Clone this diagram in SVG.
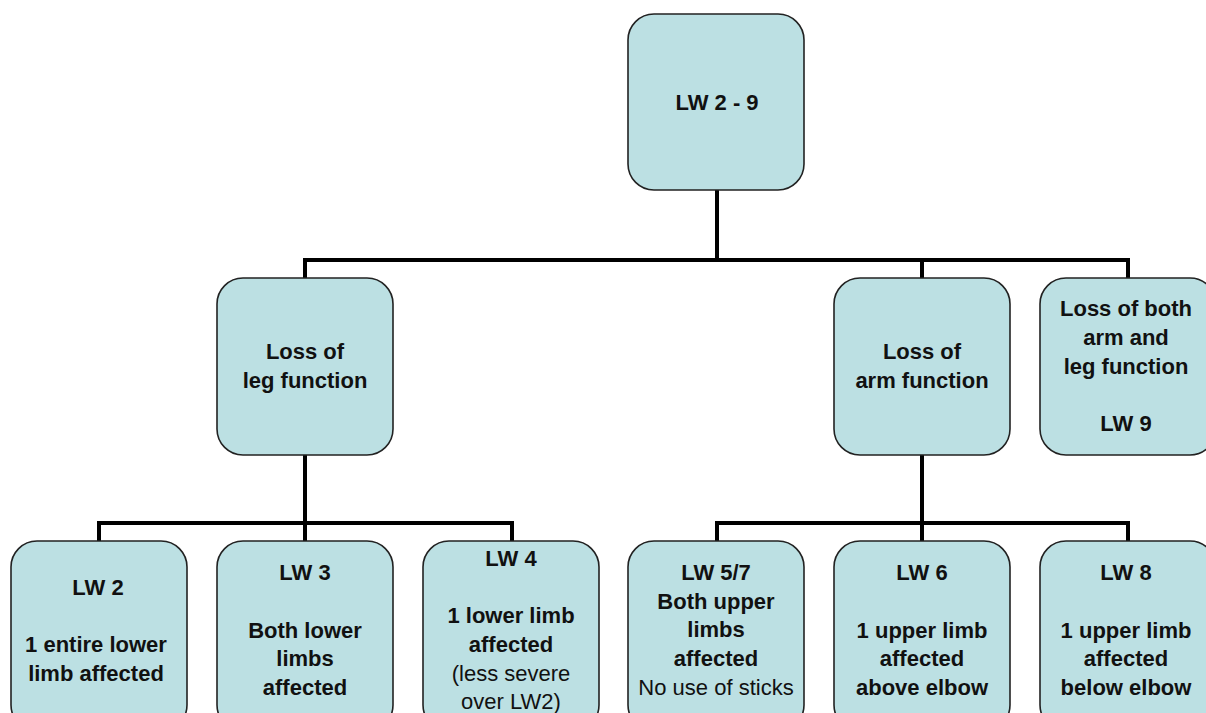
<svg xmlns="http://www.w3.org/2000/svg" width="1206" height="713" viewBox="0 0 1206 713">
<style>
.box{fill:#BCE0E3;stroke:#222;stroke-width:1.6}
.c{fill:none;stroke:#000;stroke-width:4;stroke-linecap:square}
text{font-family:"Liberation Sans",Arial,sans-serif;font-size:22px;font-weight:bold;fill:#111;text-anchor:middle}
.n{font-weight:normal}
</style>
<rect width="1206" height="713" fill="#fff"/>
<g id="connectors">
<path class="c" d="M717 190V260M305 260H1128M305 260V278M922 260V278M1128 260V278"/>
<path class="c" d="M305 455V523M99 523H512M99 523V541M305 523V541M512 523V541"/>
<path class="c" d="M922 455V523M717 523H1128M717 523V541M922 523V541M1128 523V541"/>
</g>
<g id="n-top"><rect class="box" x="628" y="14" width="176" height="176" rx="26"/><text x="717" y="110">LW 2 - 9</text></g>
<g id="n-leg"><rect class="box" x="217" y="278" width="176" height="177" rx="26"/><text x="305" y="359">Loss of</text><text x="305" y="388">leg function</text></g>
<g id="n-arm"><rect class="box" x="834" y="278" width="176" height="177" rx="26"/><text x="922" y="359">Loss of</text><text x="922" y="388">arm function</text></g>
<g id="n-both"><rect class="box" x="1040" y="278" width="176" height="177" rx="26"/><text x="1126" y="316">Loss of both</text><text x="1126" y="345">arm and</text><text x="1126" y="374">leg function</text><text x="1126" y="431">LW 9</text></g>
<g id="n-lw2"><rect class="box" x="11" y="541" width="176" height="190" rx="26"/><text x="98" y="595">LW 2</text><text x="96" y="652">1 entire lower</text><text x="96" y="681">limb affected</text></g>
<g id="n-lw3"><rect class="box" x="217" y="541" width="176" height="190" rx="26"/><text x="305" y="580">LW 3</text><text x="305" y="638">Both lower</text><text x="305" y="666">limbs</text><text x="305" y="695">affected</text></g>
<g id="n-lw4"><rect class="box" x="423" y="541" width="176" height="190" rx="26"/><text x="511" y="566">LW 4</text><text x="511" y="623">1 lower limb</text><text x="511" y="652">affected</text><text class="n" x="511" y="681">(less severe</text><text class="n" x="511" y="709">over LW2)</text></g>
<g id="n-lw57"><rect class="box" x="628" y="541" width="176" height="190" rx="26"/><text x="716" y="580">LW 5/7</text><text x="716" y="609">Both upper</text><text x="716" y="637">limbs</text><text x="716" y="666">affected</text><text class="n" x="716" y="695">No use of sticks</text></g>
<g id="n-lw6"><rect class="box" x="834" y="541" width="176" height="190" rx="26"/><text x="922" y="580">LW 6</text><text x="922" y="638">1 upper limb</text><text x="922" y="666">affected</text><text x="922" y="695">above elbow</text></g>
<g id="n-lw8"><rect class="box" x="1040" y="541" width="176" height="190" rx="26"/><text x="1126" y="580">LW 8</text><text x="1126" y="638">1 upper limb</text><text x="1126" y="666">affected</text><text x="1126" y="695">below elbow</text></g>
</svg>
